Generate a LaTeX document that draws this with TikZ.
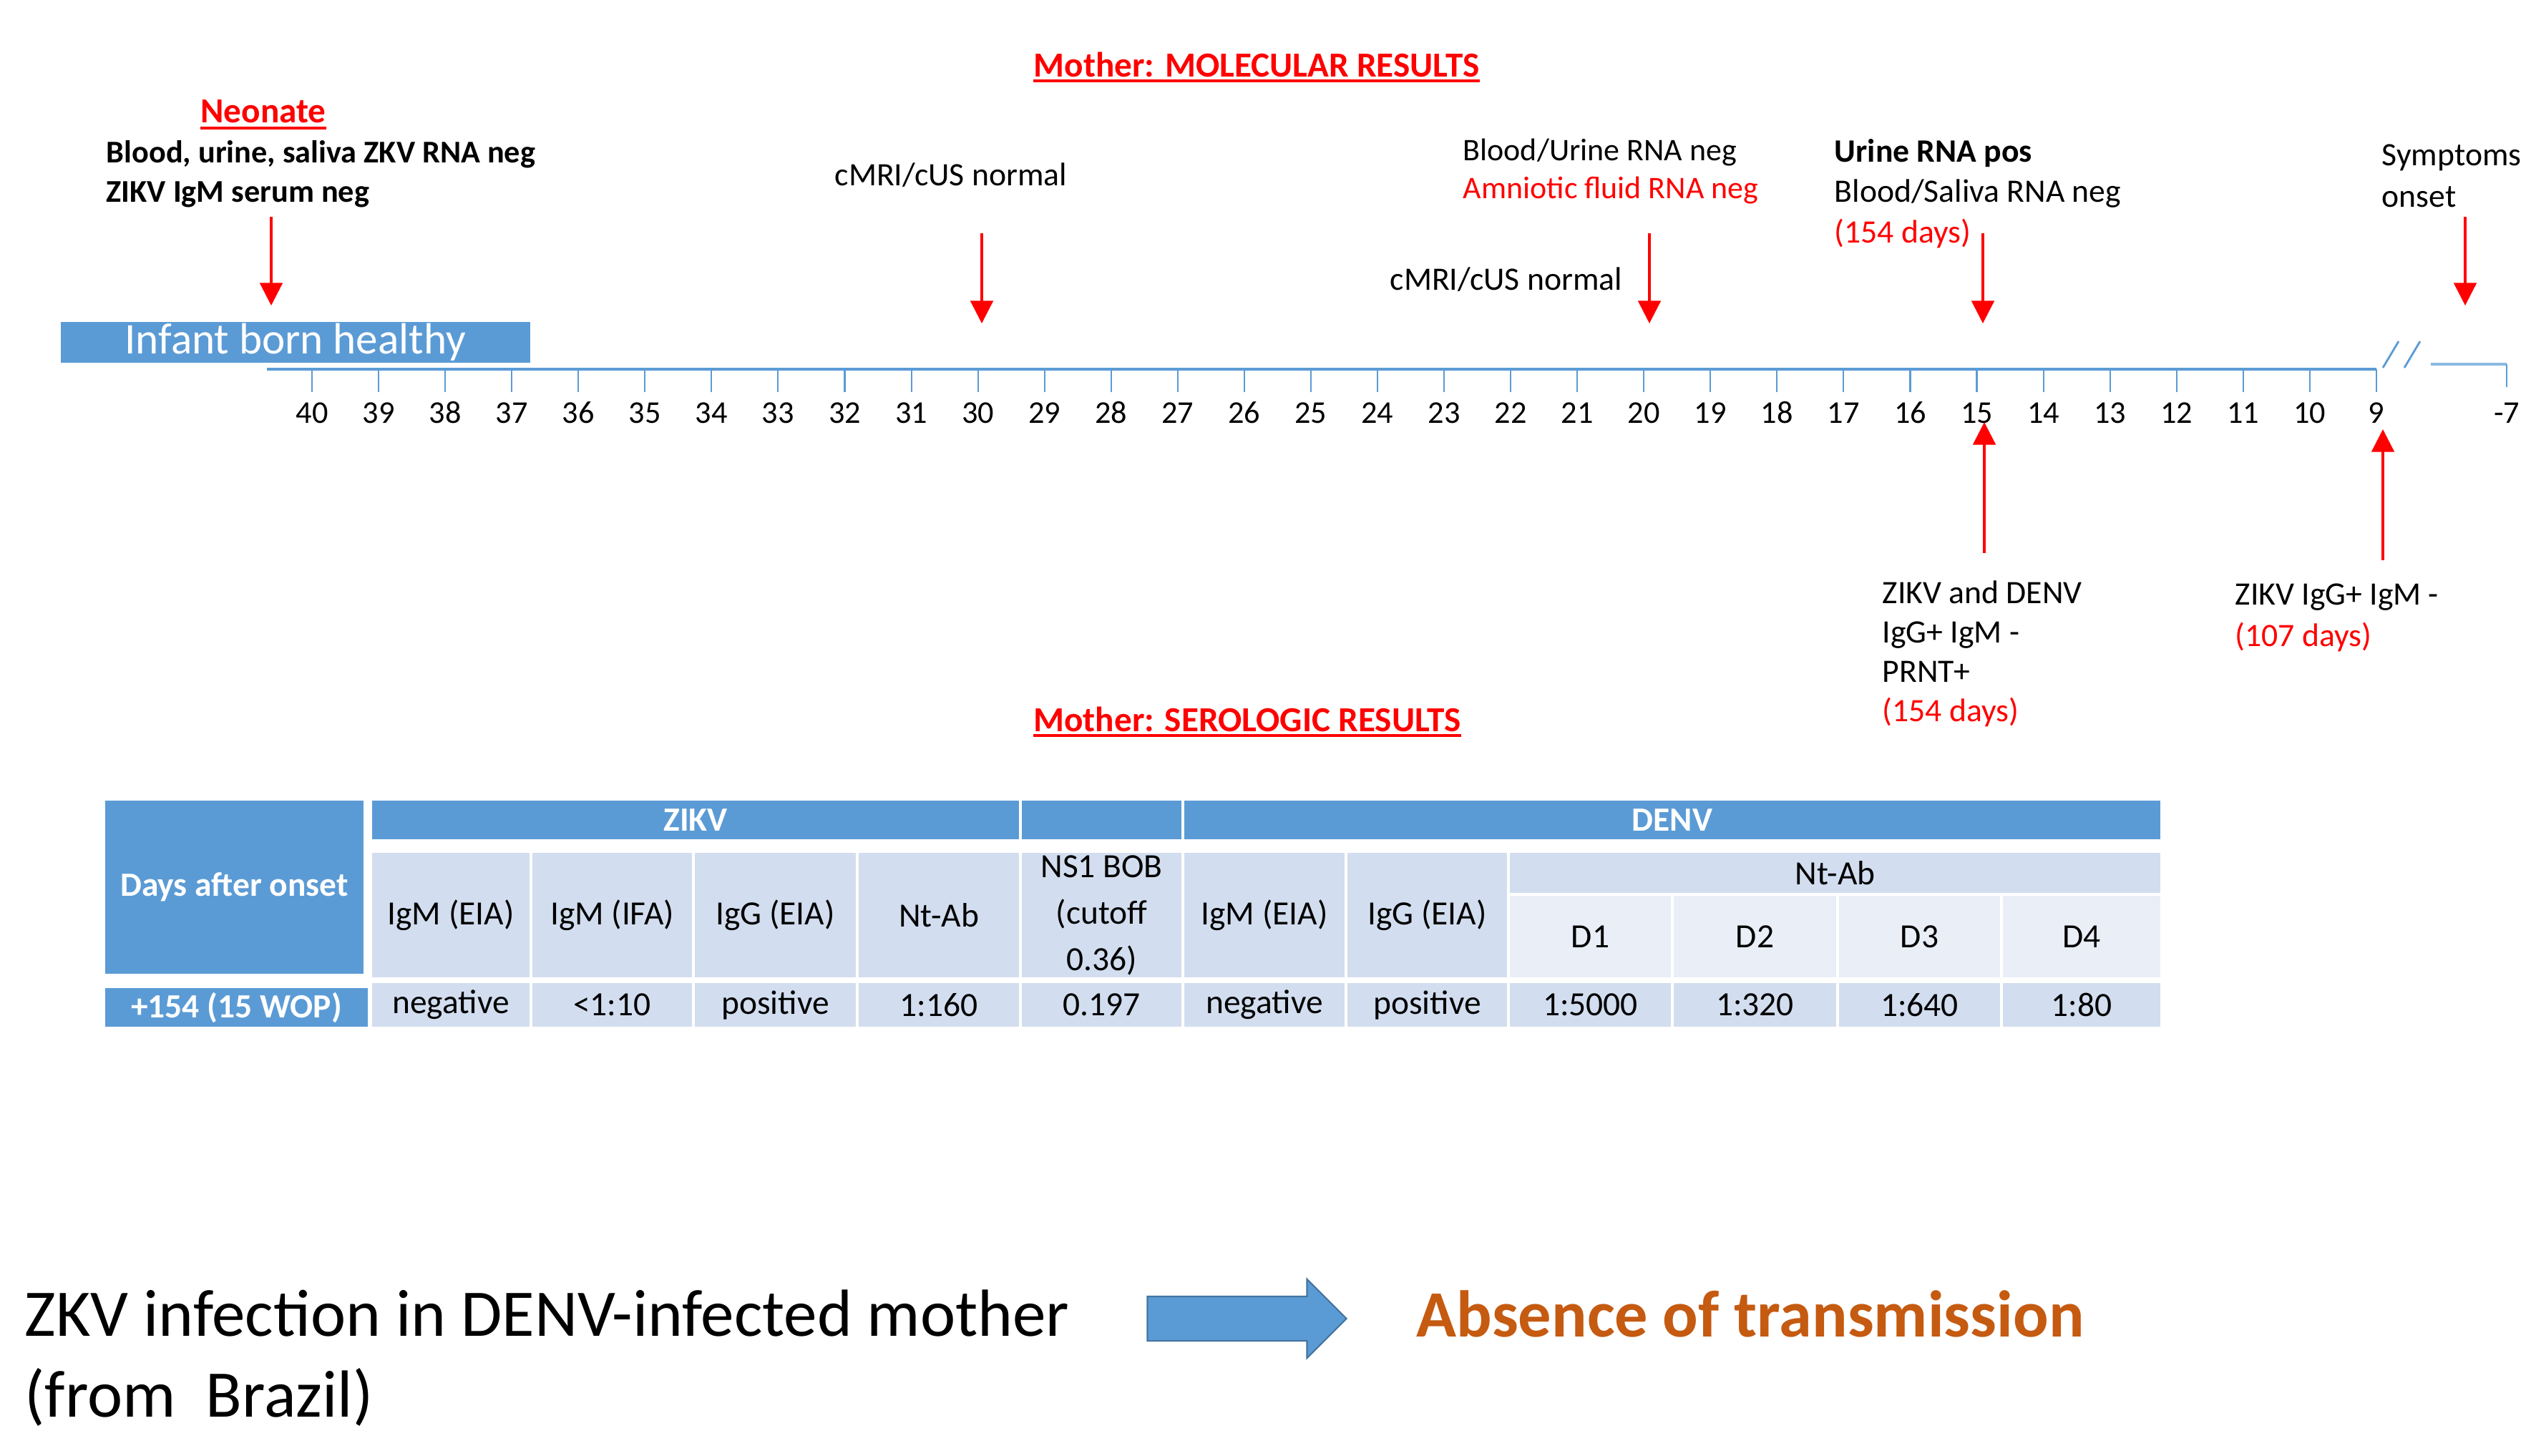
\documentclass[tikz,border=0pt]{standalone}
\usepackage{fontspec}
\setmainfont{Carlito}
\usepackage{xcolor}
\usetikzlibrary{shapes,arrows.meta,positioning}
\definecolor{zblue}{RGB}{91,155,213}
\definecolor{zpale}{RGB}{210,222,239}
\definecolor{zpaler}{RGB}{233,238,247}
\definecolor{zorange}{RGB}{197,90,17}
\definecolor{zred}{RGB}{255,0,0}

\begin{document}
\begin{tikzpicture}[
    txt/.style={inner sep=0, align=left, font=\fontsize{13}{15.5}\selectfont},
    ttl/.style={inner sep=0, text=zred, font=\fontsize{14}{16}\selectfont\bfseries},
    uline/.style={draw=zred, line width=0.9pt},
    redarrow/.style={draw=zred, line width=0.9pt, -{Triangle[width=9pt,length=9pt]}},
    axis/.style={draw=zblue, line width=1.2pt},
    axtick/.style={draw=zblue, line width=0.6pt},
    num/.style={inner sep=0, font=\fontsize{12.6}{14}\selectfont},
    cell/.style={rectangle, anchor=north west, draw=white, line width=1pt, inner sep=0, outer sep=0, fill=zpale, align=center, font=\fontsize{13.5}{18.5}\selectfont},
    hcell/.style={cell, fill=zblue, text=white, font=\fontsize{13.5}{16}\selectfont\bfseries},
    big/.style={inner sep=0, align=left, font=\fontsize{26.5}{32}\selectfont}
]
\useasboundingbox (0,0) rectangle (35.44,-20.35);

% Titles
\node[ttl, anchor=base] (moltitle) at (17.56,-1.07) {Mother: MOLECULAR RESULTS};
\node[ttl, anchor=base] (neotitle) at (3.68,-1.71) {Neonate};
\node[ttl, anchor=base] (serotitle) at (17.43,-10.22) {Mother: SEROLOGIC RESULTS};
\draw[uline] ([yshift=-0.06cm]moltitle.base west) -- ([yshift=-0.06cm]moltitle.base east);
\draw[uline] ([yshift=-0.08cm]neotitle.base west) -- ([yshift=-0.08cm]neotitle.base east);
\draw[uline] ([yshift=-0.06cm]serotitle.base west) -- ([yshift=-0.06cm]serotitle.base east);

% Timeline
\node[fill=zblue, text=white, anchor=north west, inner sep=0, minimum width=6.56cm, minimum height=0.57cm,
      font=\fontsize{17.4}{20}\selectfont] (infant) at (0.84,-4.49) {Infant born healthy};
\coordinate (axstart) at (3.73,-5.16);
\coordinate (axend) at (33.21,-5.16);
\draw[axis] (axstart) -- (axend);
\foreach \k in {40,39,...,9}{
  \coordinate (t\k) at ({4.36+(40-\k)*0.9306},-5.16);
  \draw[axtick] (t\k) -- ++(0,-0.32);
  \node[num, anchor=base] (n\k) at ({4.36+(40-\k)*0.9306},-5.91) {\k};
}
\coordinate (brk1a) at (33.30,-5.14);
\coordinate (brk1b) at (33.52,-4.77);
\coordinate (brk2a) at (33.60,-5.14);
\coordinate (brk2b) at (33.82,-4.77);
\draw[axtick, line width=0.8pt] (brk1a) -- (brk1b);
\draw[axtick, line width=0.8pt] (brk2a) -- (brk2b);
\coordinate (tailstart) at (33.97,-5.09);
\coordinate (tm7) at (35.03,-5.09);
\draw[axis, draw=zblue!70] (tailstart) -- (tm7);
\draw[axtick] (tm7) -- ++(0,-0.32);
\node[num, anchor=base] (nm7) at (35.03,-5.91) {-7};

% Labels above the line (base = last line)
\node[txt, anchor=base west, font=\fontsize{12.6}{15.4}\selectfont\bfseries] (neonate) at (1.48,-2.82)
  {Blood, urine, saliva ZKV RNA neg\\ZIKV IgM serum neg};
\node[txt, anchor=base west] (cmri1) at (11.66,-2.59) {cMRI/cUS normal};
\node[txt, anchor=base west] (cmri2) at (19.42,-4.05) {cMRI/cUS normal};
\node[txt, anchor=base west, font=\fontsize{12.5}{14.8}\selectfont] (bloodurine) at (20.44,-2.77)
  {Blood/Urine RNA neg\\\textcolor{zred}{Amniotic fluid RNA neg}};
\node[txt, anchor=base west, font=\fontsize{13}{16}\selectfont] (urinepos) at (25.63,-3.39)
  {\textbf{Urine RNA pos}\\Blood/Saliva RNA neg\\\textcolor{zred}{(154 days)}};
\node[txt, anchor=base west, font=\fontsize{13}{16.3}\selectfont] (onset) at (33.28,-2.89) {Symptoms\\onset};

% Labels below the line
\node[txt, anchor=base west, font=\fontsize{13}{15.6}\selectfont] (prnt) at (26.30,-10.08)
  {ZIKV and DENV\\IgG+ IgM -\\PRNT+\\\textcolor{zred}{(154 days)}};
\node[txt, anchor=base west, font=\fontsize{13}{16.5}\selectfont] (igg) at (31.23,-9.03)
  {ZIKV IgG+ IgM -\\\textcolor{zred}{(107 days)}};

% Arrows
\coordinate (neoa) at (3.79,-3.03);
\coordinate (neob) at (3.79,-4.27);
\coordinate (w30a) at (13.72,-3.26);
\coordinate (w30b) at (13.72,-4.52);
\coordinate (w20a) at (23.05,-3.26);
\coordinate (w20b) at (23.05,-4.52);
\coordinate (w15a) at (27.71,-3.26);
\coordinate (w15b) at (27.71,-4.52);
\coordinate (onsa) at (34.45,-3.03);
\coordinate (onsb) at (34.45,-4.27);
\coordinate (up15a) at (27.73,-7.73);
\coordinate (up15b) at (27.73,-5.90);
\coordinate (up9a) at (33.30,-7.83);
\coordinate (up9b) at (33.30,-6.00);
\draw[redarrow] (neoa) -- (neob);
\draw[redarrow] (w30a) -- (w30b);
\draw[redarrow] (w20a) -- (w20b);
\draw[redarrow] (w15a) -- (w15b);
\draw[redarrow] (onsa) -- (onsb);
\draw[redarrow] (up15a) -- (up15b);
\draw[redarrow] (up9a) -- (up9b);

% Table: header row
\node[hcell, minimum width=3.65cm, minimum height=2.46cm] (days) at (1.45,-11.17) {Days after onset};
\node[hcell, minimum width=9.08cm, minimum height=0.58cm] (zikv) at (5.18,-11.17) {ZIKV};
\node[hcell, minimum width=2.27cm, minimum height=0.58cm] (ns1top) at (14.26,-11.17) {};
\node[hcell, minimum width=13.68cm, minimum height=0.58cm] (denv) at (16.53,-11.17) {DENV};

% Table: sub header row
\node[cell, minimum width=2.24cm, minimum height=1.78cm] (zigmeia) at (5.18,-11.90) {IgM (EIA)};
\node[cell, minimum width=2.27cm, minimum height=1.78cm] (zigmifa) at (7.42,-11.90) {IgM (IFA)};
\node[cell, minimum width=2.29cm, minimum height=1.78cm] (zigg) at (9.69,-11.90) {IgG (EIA)};
\node[cell, minimum width=2.28cm, minimum height=1.78cm] (zntab) at (11.98,-11.90) {Nt-Ab};
\node[cell, minimum width=2.27cm, minimum height=1.78cm] (ns1) at (14.26,-11.90) {NS1 BOB\\(cutoff\\0.36)};
\node[cell, minimum width=2.28cm, minimum height=1.78cm] (digm) at (16.53,-11.90) {IgM (EIA)};
\node[cell, minimum width=2.27cm, minimum height=1.78cm] (digg) at (18.81,-11.90) {IgG (EIA)};
\node[cell, minimum width=9.13cm, minimum height=0.60cm] (dntab) at (21.08,-11.90) {Nt-Ab};
\node[cell, fill=zpaler, minimum width=2.29cm, minimum height=1.18cm] (d1) at (21.08,-12.50) {D1};
\node[cell, fill=zpaler, minimum width=2.31cm, minimum height=1.18cm] (d2) at (23.37,-12.50) {D2};
\node[cell, fill=zpaler, minimum width=2.29cm, minimum height=1.18cm] (d3) at (25.68,-12.50) {D3};
\node[cell, fill=zpaler, minimum width=2.24cm, minimum height=1.18cm] (d4) at (27.97,-12.50) {D4};

% Table: data row
\node[hcell, minimum width=3.71cm, minimum height=0.58cm] (day154) at (1.45,-13.79) {+154 (15 WOP)};
\node[cell, minimum width=2.24cm, minimum height=0.65cm] (v1) at (5.18,-13.72) {negative};
\node[cell, minimum width=2.27cm, minimum height=0.65cm] (v2) at (7.42,-13.72) {<1:10};
\node[cell, minimum width=2.29cm, minimum height=0.65cm] (v3) at (9.69,-13.72) {positive};
\node[cell, minimum width=2.28cm, minimum height=0.65cm] (v4) at (11.98,-13.72) {1:160};
\node[cell, minimum width=2.27cm, minimum height=0.65cm] (v5) at (14.26,-13.72) {0.197};
\node[cell, minimum width=2.28cm, minimum height=0.65cm] (v6) at (16.53,-13.72) {negative};
\node[cell, minimum width=2.27cm, minimum height=0.65cm] (v7) at (18.81,-13.72) {positive};
\node[cell, minimum width=2.29cm, minimum height=0.65cm] (v8) at (21.08,-13.72) {1:5000};
\node[cell, minimum width=2.31cm, minimum height=0.65cm] (v9) at (23.37,-13.72) {1:320};
\node[cell, minimum width=2.29cm, minimum height=0.65cm] (v10) at (25.68,-13.72) {1:640};
\node[cell, minimum width=2.24cm, minimum height=0.65cm] (v11) at (27.97,-13.72) {1:80};

% Conclusion
\node[big, anchor=base west] (infection) at (0.34,-19.80) {ZKV infection in DENV-infected mother\\(from~ Brazil)};
\node[big, anchor=base west, text=zorange, font=\fontsize{26.3}{32}\selectfont\bfseries] (absence) at (19.79,-18.68) {Absence of transmission};
\node[single arrow, fill=zblue, draw=zblue!75!black, line width=0.6pt, inner xsep=0, inner ysep=0.3cm,
      minimum height=2.78cm, single arrow head extend=0.24cm] (bigarrow) at (17.27,-18.43) {};

\end{tikzpicture}
\end{document}
